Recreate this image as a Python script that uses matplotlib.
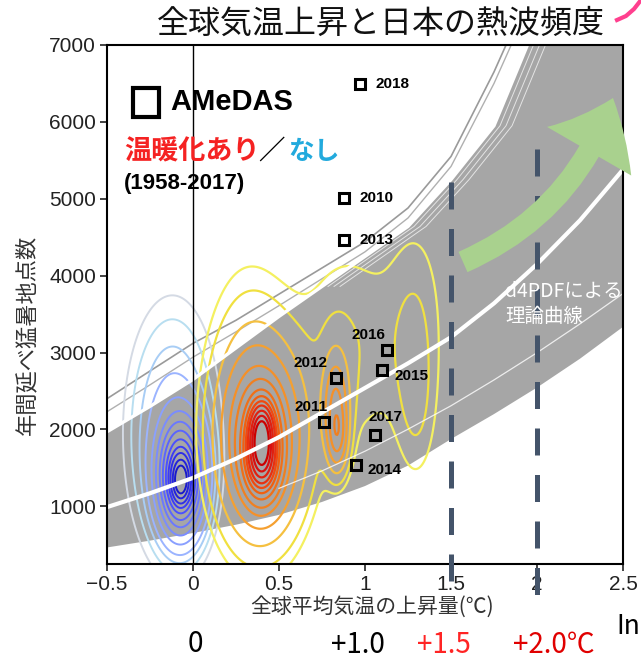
import numpy as np
import matplotlib
matplotlib.use('Agg')
import matplotlib.pyplot as plt
from matplotlib.patches import FancyArrowPatch, Rectangle
from matplotlib.lines import Line2D

plt.rcParams['font.family'] = ['Noto Sans CJK JP', 'DejaVu Sans']

# d4PDF theoretical curves, read every 0.25 degC
curve_x = [-0.5, -0.25, 0.0, 0.25, 0.5, 0.75, 1.0, 1.25, 1.5, 1.75, 2.0, 2.25, 2.5]
band_low = [465, 554, 653, 761, 889, 1057, 1264, 1530, 1875, 2200, 2545, 2920, 3334]
band_mid = [990, 1170, 1370, 1620, 1900, 2220, 2540, 2860, 3200, 3640, 4150, 4720, 5380]
band_high = [1970, 2300, 2650, 3060, 3470, 3860, 4250, 4640, 5250, 5950, 7300, 8600, 9900]
outer_line = [2400, 2760, 3120, 3420, 3760, 4100, 4440, 4880, 5550, 6650, 7900, 9200, 10500]
outer_line2 = [2230, 2580, 2940, 3270, 3610, 3960, 4310, 4750, 5420, 6500, 7750, 9000, 10300]
thin_x = [0.5, 0.75, 1.0, 1.25, 1.5, 1.75, 2.0, 2.25, 2.5]
thin_line = [1234, 1461, 1717, 2003, 2308, 2644, 2998, 3373, 3767]

# AMeDAS observed years
years = ['2010', '2011', '2012', '2013', '2014', '2015', '2016', '2017', '2018']
gmst = [0.88, 0.76, 0.83, 0.88, 0.95, 1.10, 1.13, 1.06, 0.97]
counts = [5010, 2097, 2669, 4464, 1538, 2773, 3033, 1928, 6493]
label_off = [(15, 0), (-13, 15), (-25, 15), (15, 0), (11, -5), (12, -6), (-19, 15), (10, 18), (16, 0)]
label_ha = ['left', 'center', 'center', 'left', 'left', 'left', 'center', 'center', 'left']

# ensemble density shapes: (x, y, sx, sy, weight)
nowarm_bumps = [(-0.07, 1330, 0.035, 180, 0.6),
                (-0.07, 1380, 0.08, 450, 1.0),
                (-0.12, 1950, 0.16, 1000, 0.15)]
nowarm_levels = [0.03, 0.05, 0.08, 0.12, 0.2, 0.3, 0.42, 0.55, 0.7, 0.85, 1.0, 1.2, 1.4]
nowarm_colors = ['#d4dae4', '#b8def0', '#a8cdf5', '#9bb4ff', '#8aa0ff', '#7a8cff',
                 '#6a78ff', '#5a64ff', '#4a50ff', '#3c3cf5', '#2f2fe8', '#2222dd', '#1818cc']
warm_bumps = [(0.40, 2030, 0.05, 250, 0.8),
              (0.40, 1630, 0.06, 300, 1.0),
              (0.40, 1830, 0.15, 750, 0.5),
              (0.83, 2330, 0.05, 450, 0.25),
              (0.84, 1880, 0.04, 300, 0.2),
              (0.32, 2400, 0.16, 1100, 0.1),
              (0.90, 3080, 0.22, 1000, 0.06),
              (1.30, 3400, 0.12, 1000, 0.05),
              (1.30, 2200, 0.08, 700, 0.04)]
warm_levels = [0.035, 0.06, 0.12, 0.2, 0.3, 0.4, 0.55, 0.7, 0.85, 1.0, 1.2, 1.4, 1.6]
warm_colors = ['#f4f060', '#f0e040', '#f5c040', '#f5a030', '#f59028', '#f08020',
               '#f07018', '#f06010', '#f04a10', '#e83010', '#e02010', '#d81010', '#cc0000']

W, H = 641, 662
fig = plt.figure(figsize=(W / 100, H / 100), dpi=100)


def fx(px):
    return px / W


def fy(py):
    return 1 - py / H


ax = fig.add_axes([fx(107), fy(564), (623 - 107) / W, (564 - 45) / H])
ax.set_xlim(-0.5, 2.5)
ax.set_ylim(250, 7000)

# gray band and theoretical curves
ax.fill_between(curve_x, band_low, band_high, color='#a6a6a6', lw=0, zorder=1)
ax.plot(curve_x, outer_line, color='#9a9a9a', lw=1.2, zorder=1.5)
ax.plot(curve_x, outer_line2, color='#b0b0b0', lw=1.0, zorder=1.5)
for dx in [0.035, 0.07, 0.105]:
    xs = np.array(curve_x) + dx
    ys = np.array(band_high, dtype=float)
    ys[ys < 3800] = np.nan
    ax.plot(xs, ys, color='white', lw=0.7, alpha=0.7, zorder=1.5)

gx = np.linspace(-0.5, 2.5, 400)
gy = np.linspace(0, 7000, 400)
X, Y = np.meshgrid(gx, gy)


def density(bumps):
    Z = np.zeros_like(X)
    for cx, cy, sx, sy, w in bumps:
        Z += w * np.exp(-0.5 * (((X - cx) / sx) ** 2 + ((Y - cy) / sy) ** 2))
    return Z


ax.contour(X, Y, density(nowarm_bumps), levels=nowarm_levels, colors=nowarm_colors,
           linewidths=1.4, zorder=2)
ax.contour(X, Y, density(warm_bumps), levels=warm_levels, colors=warm_colors,
           linewidths=1.6, zorder=2)

ax.plot(curve_x, band_high, color='white', lw=2.4, zorder=3)
ax.plot(curve_x, band_mid, color='white', lw=3.0, zorder=3)
ax.plot(thin_x, thin_line, color='white', lw=0.9, alpha=0.8, zorder=3)
ax.axvline(0, color='black', lw=1.0, zorder=3)

# observed points
ax.plot(gmst, counts, 's', ms=6.5, mfc='none', mec='black', mew=2.2, zorder=5)
for yr, x, y, off, ha in zip(years, gmst, counts, label_off, label_ha):
    ax.annotate(yr, (x, y), xytext=off, textcoords='offset pixels', ha=ha, va='center',
                fontsize=11, fontweight='bold', family='Liberation Sans', zorder=5)

fig.text(fx(505), fy(292), 'd4PDFによる', color='white', fontsize=14, va='center', zorder=4)
fig.text(fx(505), fy(316), '理論曲線', color='white', fontsize=14, va='center', zorder=4)

# 1.5 and 2.0 degC markers
ax.plot([1.5, 1.5], [5220, -15], color='#44546a', lw=3.6, dashes=(5.4, 3.9),
        solid_capstyle='butt', dash_capstyle='butt', clip_on=False, zorder=7)
ax.plot([2.0, 2.0], [5650, -200], color='#44546a', lw=3.6, dashes=(5.4, 3.9),
        solid_capstyle='butt', dash_capstyle='butt', clip_on=False, zorder=7)

ax.set_xticks([-0.5, 0, 0.5, 1, 1.5, 2, 2.5])
ax.set_xticklabels(['\u22120.5', '0', '0.5', '1', '1.5', '2', '2.5'])
ax.set_yticks(range(1000, 8000, 1000))
ax.tick_params(direction='out', length=5, width=1.2, labelsize=15, pad=3, colors='#222222')
for lab in ax.get_xticklabels() + ax.get_yticklabels():
    lab.set_family('Liberation Sans')
for sp in ax.spines.values():
    sp.set_linewidth(1.5)
    sp.set_zorder(6)

# legend block
fig.add_artist(Rectangle((fx(133), fy(117)), 26 / W, 29 / H, transform=fig.transFigure,
                         fill=False, lw=3, ec='black', zorder=8))
fig.text(fx(170), fy(102), 'AMeDAS', fontsize=21, fontweight='bold', family='Liberation Sans',
         va='center', zorder=8)
fig.text(fx(124), fy(151), '温暖化あり', fontsize=19.5, fontweight='bold', color='#f52222',
         va='center', zorder=8)
fig.text(fx(258), fy(151), '／', fontsize=19, fontweight='bold', color='black', va='center',
         zorder=8)
fig.text(fx(288), fy(151), 'なし', fontsize=18.5, fontweight='bold', color='#22aadd',
         va='center', zorder=8)
fig.text(fx(124), fy(183), '(1958-2017)', fontsize=16, fontweight='bold',
         family='Liberation Sans', va='center', zorder=8)

# titles and axis labels
fig.text(fx(381), fy(24), '全球気温上昇と日本の熱波頻度', fontsize=23, ha='center', va='center',
         color='#111111')
fig.text(fx(27), fy(335), '年間延べ猛暑地点数', fontsize=16, rotation=90, ha='center',
         va='center', color='#333333')
fig.text(fx(372), fy(607), '全球平均気温の上昇量(℃)', fontsize=15, ha='center', va='center',
         color='#333333')

# bottom scale
fig.text(fx(195), fy(644), '0', fontsize=20, ha='center', va='center')
fig.text(fx(358), fy(645), '+1.0', fontsize=20, ha='center', va='center')
fig.text(fx(444), fy(645), '+1.5', fontsize=20, ha='center', va='center', color='#ff2424')
fig.text(fx(554), fy(645), '+2.0℃', fontsize=20, ha='center', va='center', color='#e00000')
fig.text(fx(640), fy(627), 'In', fontsize=19, ha='right', va='center')

# green trend arrow
fig.add_artist(FancyArrowPatch((fx(463), fy(262)), (fx(613), fy(98)), transform=fig.transFigure,
                               connectionstyle='arc3,rad=0.22',
                               arrowstyle='simple,head_length=42,head_width=70,tail_width=16',
                               mutation_scale=1, shrinkA=0, shrinkB=0, color='#a9d18e',
                               lw=0, zorder=6))
fig.add_artist(Line2D([fx(617), fx(626), fx(634), fx(641)], [fy(20), fy(16), fy(9), fy(0)],
                      transform=fig.transFigure, color='#ff3f8e', lw=3))

fig.savefig('out.png', dpi=100)
